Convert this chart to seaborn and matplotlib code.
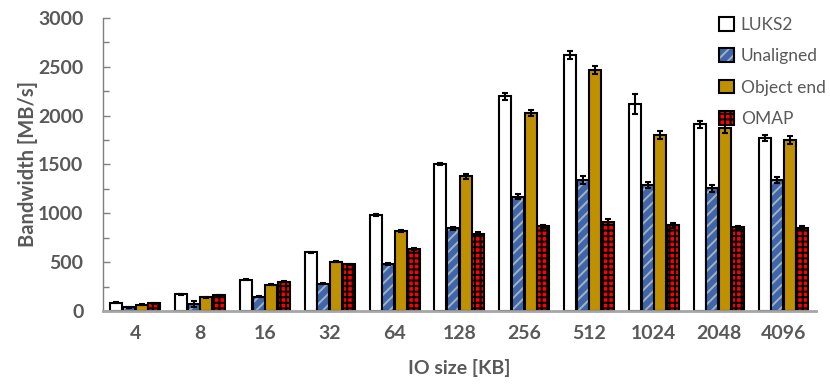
import matplotlib
matplotlib.use("Agg")
import matplotlib.pyplot as plt
from matplotlib.patches import Patch
from matplotlib.ticker import MultipleLocator
from matplotlib.colors import to_rgba
import seaborn as sns
import pandas as pd

# IO sizes (KB) and mean bandwidth (MB/s) per scheme
io_sizes = ["4", "8", "16", "32", "64", "128", "256", "512", "1024", "2048", "4096"]
schemes = ["LUKS2", "Unaligned", "Object end", "OMAP"]

luks2 = [85, 170, 320, 600, 980, 1505, 2200, 2620, 2120, 1910, 1775]
unaligned = [40, 75, 145, 280, 485, 845, 1170, 1340, 1290, 1255, 1345]
object_end = [65, 140, 270, 505, 822, 1380, 2030, 2465, 1800, 1870, 1750]
omap = [80, 160, 300, 480, 635, 785, 868, 908, 878, 855, 853]

# error bar half-widths
luks2_err = [5, 5, 5, 6, 10, 15, 35, 40, 105, 40, 30]
unaligned_err = [5, 30, 5, 5, 10, 15, 25, 40, 30, 40, 30]
object_end_err = [5, 5, 5, 5, 10, 25, 30, 40, 40, 45, 40]
omap_err = [5, 5, 5, 5, 8, 20, 15, 30, 25, 15, 15]

values = [luks2, unaligned, object_end, omap]
errors = [luks2_err, unaligned_err, object_end_err, omap_err]

df = pd.DataFrame({
    "io": io_sizes * len(schemes),
    "scheme": [s for s in schemes for _ in io_sizes],
    "bw": [v for vals in values for v in vals],
})

faces = ["white", "#3E66A8", "#BF9000", "#FF0000"]
hatches = [None, "///", None, "+++"]
hatch_colors = [None, "#A3B1C8", None, "black"]
text_gray = "#595959"

plt.rcParams["font.family"] = ["Lato", "DejaVu Sans"]
plt.rcParams["hatch.linewidth"] = 1.4


def set_hatch_color(patch, color):
    try:
        patch.set_hatchcolor(color)
    except AttributeError:
        patch._hatch_color = to_rgba(color)


fig = plt.figure(figsize=(8.3, 3.91), dpi=100)
ax = fig.add_axes([0.124, 0.2046, 0.859, 0.7494])

sns.barplot(data=df, x="io", y="bw", hue="scheme", order=io_sizes,
            hue_order=schemes, palette=faces, edgecolor="black",
            linewidth=1.5, errorbar=None, width=0.78, gap=0.05,
            legend=False, saturation=1, ax=ax)

for cont, hatch, hc, err in zip(ax.containers, hatches, hatch_colors, errors):
    xs, ys = [], []
    for bar in cont:
        if hatch:
            bar.set_hatch(hatch)
            set_hatch_color(bar, hc)
        xs.append(bar.get_x() + bar.get_width() / 2)
        ys.append(bar.get_height())
    ax.errorbar(xs, ys, yerr=err, fmt="none", ecolor="black",
                elinewidth=1.5, capsize=2.5, capthick=1.5, zorder=5)

ax.set_xlim(-0.5, len(io_sizes) - 0.5)
ax.set_ylim(0, 3000)
ax.yaxis.set_major_locator(MultipleLocator(500))
ax.yaxis.set_minor_locator(MultipleLocator(250))

for side in ["top", "right"]:
    ax.spines[side].set_visible(False)
ax.spines["left"].set_color("#7f7f7f")
ax.spines["left"].set_linewidth(1.0)
ax.spines["bottom"].set_color("#a6a6a6")
ax.spines["bottom"].set_linewidth(2.0)

ax.tick_params(axis="y", which="major", direction="in", length=5,
               width=1.0, color="#7f7f7f", pad=14)
ax.tick_params(axis="y", which="minor", direction="in", length=4,
               width=1.0, color="#7f7f7f")
ax.tick_params(axis="x", length=0, pad=10)
for lab in ax.get_xticklabels() + ax.get_yticklabels():
    lab.set_fontsize(14)
    lab.set_fontweight("bold")
    lab.set_color(text_gray)

ax.set_xlabel("IO size [KB]", fontsize=14, fontweight="bold",
              color=text_gray, labelpad=12)
ax.set_ylabel("Bandwidth [MB/s]", fontsize=14.5, fontweight="bold",
              color=text_gray, labelpad=0)

handles = []
for face, hatch, hc, name in zip(faces, hatches, hatch_colors, schemes):
    h = Patch(facecolor=face, edgecolor="black", linewidth=1.5,
              hatch=hatch, label=name)
    if hatch:
        set_hatch_color(h, hc)
    handles.append(h)

leg = ax.legend(handles=handles, loc="upper left",
                bbox_to_anchor=(712 / 830, 1 - 10 / 391),
                bbox_transform=fig.transFigure, frameon=False,
                fontsize=12.5, handlelength=0.85, handleheight=0.85,
                handletextpad=0.4, labelspacing=0.88, borderaxespad=0)
for t in leg.get_texts():
    t.set_color(text_gray)

fig.savefig("out.png", dpi=100)
